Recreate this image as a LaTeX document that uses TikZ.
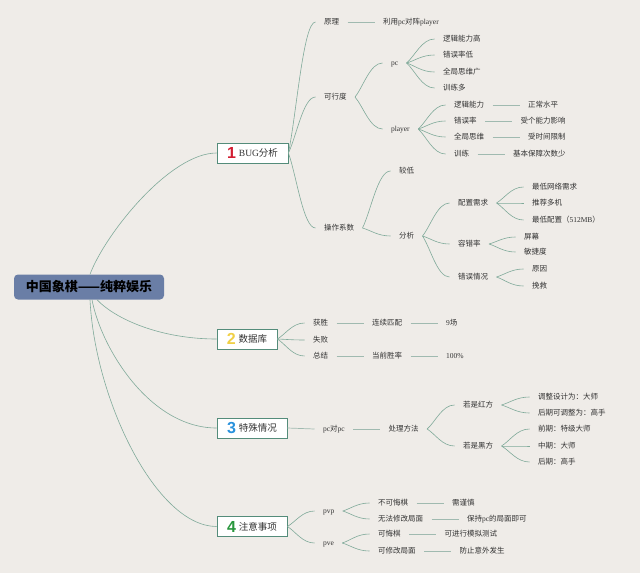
\documentclass[tikz,border=0pt]{standalone}
\usepackage{fontspec}
\setmainfont{Noto Sans CJK SC}
\newfontfamily\lt{Liberation Serif}
\newfontfamily\numf{Liberation Sans}
\usetikzlibrary{calc,positioning}
\definecolor{bgc}{RGB}{239,236,232}
\definecolor{lnc}{RGB}{128,170,154}
\definecolor{lnb}{RGB}{160,186,176}
\definecolor{bdc}{RGB}{84,140,122}
\definecolor{txc}{RGB}{51,51,51}
\definecolor{rootc}{RGB}{106,126,166}
\definecolor{n1}{RGB}{210,30,50}
\definecolor{n2}{RGB}{240,208,70}
\definecolor{n3}{RGB}{40,145,220}
\definecolor{n4}{RGB}{40,150,60}
\newcommand\bxnum[2]{\raisebox{-2.1pt}{\numf\bfseries\fontsize{16}{16}\selectfont\color{#1}#2}\hspace{3pt}}
\begin{document}
\begin{tikzpicture}[x=1pt,y=-1pt,
  lbl/.style={inner sep=0pt,outer xsep=8.5pt,outer ysep=0pt,anchor=west,
    font=\fontsize{7.5}{9}\selectfont,text=txc,text height=6.6pt,text depth=0.9pt},
  brbox/.style={draw=bdc,fill=white,line width=0.8pt,minimum height=20pt,inner sep=0pt,
    font=\fontsize{9.5}{11}\selectfont,text=txc,text height=8.3pt,text depth=1.1pt},
  rootbox/.style={fill=rootc,rounded corners=4pt,minimum width=150pt,minimum height=25pt,
    inner sep=0pt,font=\fontsize{13}{15}\selectfont\bfseries,text=black,text height=11.4pt,text depth=1.5pt},
  cv/.style={draw=lnc,line width=0.6pt},
  st/.style={draw=lnb,line width=0.7pt},
  fan/.style={to path={.. controls ($(\tikztostart)!0.3!(\tikztotarget)$) and ($(\tikztotarget)!0.45!(\tikztostart|-\tikztotarget)$) .. (\tikztotarget) \tikztonodes}},
]
\fill[bgc] (0,0) rectangle (640,573);
\useasboundingbox (0,0) rectangle (640,573);

\node[rootbox] (root) at (89,287) {中国象棋——纯粹娱乐};
\node[brbox,minimum width=71pt] (b1) at (252.5,153) {\bxnum{n1}{1}{\lt BUG}分析};
\node[brbox,minimum width=60pt] (b2) at (247,339) {\bxnum{n2}{2}数据库};
\node[brbox,minimum width=70pt] (b3) at (252,428) {\bxnum{n3}{3}特殊情况};
\node[brbox,minimum width=70pt] (b4) at (252,526.5) {\bxnum{n4}{4}注意事项};

% branch 1
\node[lbl] (yl) at (315.5,22) {原理};
\node[lbl,right=27pt of yl] (yl1) {利用{\lt pc}对阵{\lt player}};
\node[lbl] (kxd) at (315.5,97) {可行度};
\node[lbl] (pc) at (382.5,63) {{\lt pc}};
\node[lbl] (pl) at (382.5,129) {{\lt player}};
\node[lbl] (pc1) at (434.5,39) {逻辑能力高};
\node[lbl] (pc2) at (434.5,55) {错误率低};
\node[lbl] (pc3) at (434.5,72) {全局思维广};
\node[lbl] (pc4) at (434.5,88) {训练多};
\node[lbl] (pl1) at (445.5,105) {逻辑能力};
\node[lbl] (pl2) at (445.5,121) {错误率};
\node[lbl] (pl3) at (445.5,137) {全局思维};
\node[lbl] (pl4) at (445.5,154) {训练};
\node[lbl,right=27pt of pl1] (pl1a) {正常水平};
\node[lbl,right=27pt of pl2] (pl2a) {受个能力影响};
\node[lbl,right=27pt of pl3] (pl3a) {受时间限制};
\node[lbl,right=27pt of pl4] (pl4a) {基本保障次数少};
\node[lbl] (czxs) at (315.5,228) {操作系数};
\node[lbl] (jd) at (390.5,171) {较低};
\node[lbl] (fx) at (390.5,236) {分析};
\node[lbl] (pz) at (449.5,203) {配置需求};
\node[lbl] (rc) at (449.5,244) {容错率};
\node[lbl] (cw) at (449.5,277) {错误情况};
\node[lbl] (pz1) at (523.5,187) {最低网络需求};
\node[lbl] (pz2) at (523.5,203) {推荐多机};
\node[lbl] (pz3) at (523.5,220) {最低配置（{\lt 512MB}）};
\node[lbl] (rc1) at (515.5,237) {屏幕};
\node[lbl] (rc2) at (515.5,252) {敏捷度};
\node[lbl] (cw1) at (523.5,269) {原因};
\node[lbl] (cw2) at (523.5,286) {挽救};

% branch 2
\node[lbl] (hs) at (304.5,323) {获胜};
\node[lbl] (sb) at (304.5,340) {失败};
\node[lbl] (zj) at (304.5,356) {总结};
\node[lbl,right=27pt of hs] (hs1) {连续匹配};
\node[lbl,right=27pt of hs1] (hs2) {{\lt 9}场};
\node[lbl,right=27pt of zj] (zj1) {当前胜率};
\node[lbl,right=27pt of zj1] (zj2) {{\lt 100\%}};

% branch 3
\node[lbl] (pp) at (314.5,429) {{\lt pc}对{\lt pc}};
\node[lbl,right=27pt of pp] (cl) {处理方法};
\node[lbl] (hf) at (454.5,405) {若是红方};
\node[lbl] (bf) at (454.5,446) {若是黑方};
\node[lbl] (hf1) at (529.5,397) {调整设计为：大师};
\node[lbl] (hf2) at (529.5,413) {后期可调整为：高手};
\node[lbl] (bf1) at (529.5,429) {前期：特级大师};
\node[lbl] (bf2) at (529.5,446) {中期：大师};
\node[lbl] (bf3) at (529.5,462) {后期：高手};

% branch 4
\node[lbl] (pvp) at (314.5,511) {{\lt pvp}};
\node[lbl] (pve) at (314.5,543) {{\lt pve}};
\node[lbl] (pvp1) at (369.5,503) {不可悔棋};
\node[lbl] (pvp2) at (369.5,519) {无法修改局面};
\node[lbl] (pve1) at (369.5,534) {可悔棋};
\node[lbl] (pve2) at (369.5,551) {可修改局面};
\node[lbl,right=27pt of pvp1] (pvp1a) {需谨慎};
\node[lbl,right=27pt of pvp2] (pvp2a) {保持{\lt pc}的局面即可};
\node[lbl,right=27pt of pve1] (pve1a) {可进行模拟测试};
\node[lbl,right=27pt of pve2] (pve2a) {防止意外发生};

% root connectors
\draw[cv] ([xshift=1pt]root.north) .. controls +(15,-40) and +(-47,0) .. (b1.west);
\draw[cv] ([xshift=8pt]root.south) .. controls +(18,19) and +(-57,0) .. (b2.west);
\draw[cv] ([xshift=3pt]root.south) .. controls +(9,48) and +(-67,0) .. (b3.west);
\draw[cv] ([xshift=1pt]root.south) .. controls +(5,101) and +(-60,0) .. (b4.west);

% fan connectors
\foreach \a/\b in {b1/yl,b1/kxd,b1/czxs,kxd/pc,kxd/pl,
  pc/pc1,pc/pc2,pc/pc3,pc/pc4,pl/pl1,pl/pl2,pl/pl3,pl/pl4,
  czxs/jd,czxs/fx,fx/pz,fx/rc,fx/cw,pz/pz1,pz/pz2,pz/pz3,rc/rc1,rc/rc2,cw/cw1,cw/cw2,
  b2/hs,b2/sb,b2/zj,cl/hf,cl/bf,hf/hf1,hf/hf2,bf/bf1,bf/bf2,bf/bf3,
  b4/pvp,b4/pve,pvp/pvp1,pvp/pvp2,pve/pve1,pve/pve2}
  \draw[cv] (\a.east) to[fan] (\b.west);

% straight connectors
\foreach \a/\b in {yl/yl1,pl1/pl1a,pl2/pl2a,pl3/pl3a,pl4/pl4a,hs/hs1,hs1/hs2,zj/zj1,zj1/zj2,
  b3/pp,pp/cl,pvp1/pvp1a,pvp2/pvp2a,pve1/pve1a,pve2/pve2a}
  \draw[st] (\a.east) -- (\b.west);
\end{tikzpicture}
\end{document}
